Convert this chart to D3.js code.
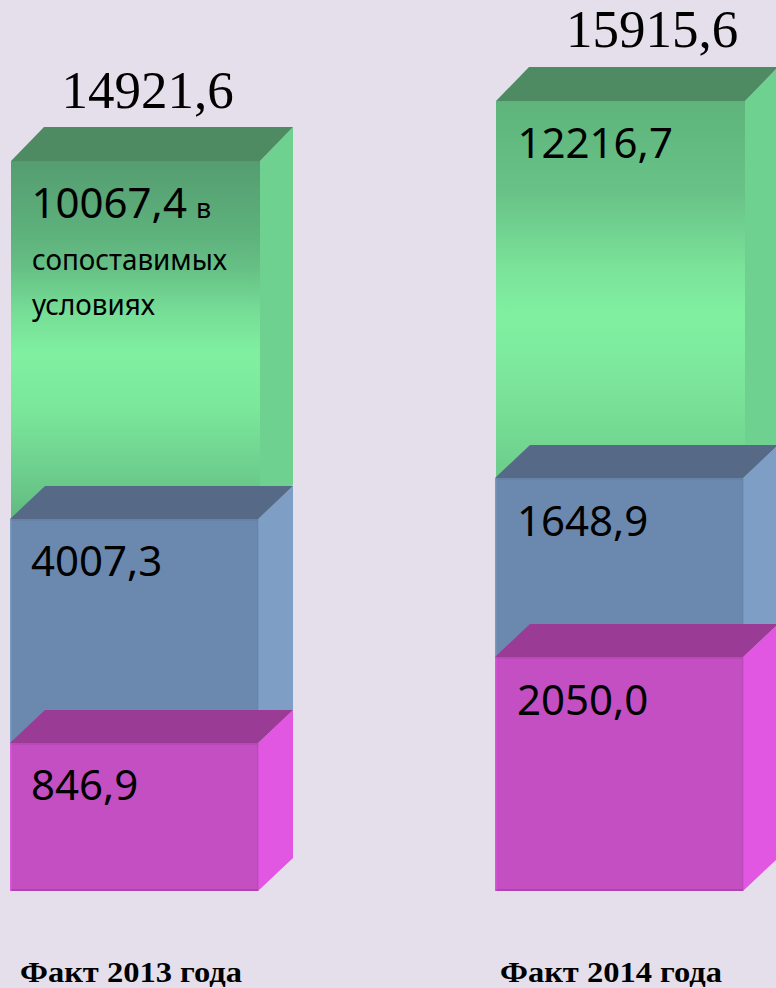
<!DOCTYPE html>
<html lang="ru">
<head>
<meta charset="utf-8">
<script src="https://cdn.jsdelivr.net/npm/d3@7"></script>
<style>
html,body{margin:0;padding:0;background:#e5dfeb;overflow:hidden}
svg{display:block}
</style>
</head>
<body>
<div id="chart"></div>
<script>
const categories = ["Факт 2013 года", "Факт 2014 года"];
const totals = ["14921,6", "15915,6"];
const seriesNames = ["pink", "blue", "green"]; // stacked bottom to top
const pinkValues = [846.9, 2050.0];
const blueValues = [4007.3, 1648.9];
const greenValues = [10067.4, 12216.7];

const W = 776, H = 988, baseY = 891;
const svg = d3.select("#chart").append("svg").attr("width", W).attr("height", H);
svg.append("rect").attr("width", W).attr("height", H).attr("fill", "#e5dfeb");

const x = d3.scaleBand().domain(categories).range([10, 744]).paddingInner(0.4866).paddingOuter(0);

// The source picture is not drawn to one scale: each series has its own height scale.
const heightScale = {
  pink: d3.scaleLinear().domain([846.9, 2050.0]).range([148, 234]),
  blue: d3.scaleLinear().domain([1648.9, 4007.3]).range([179, 224]),
  green: d3.scaleLinear().domain([10067.4, 12216.7]).range([358, 377])
};
const valuesOf = { pink: pinkValues, blue: blueValues, green: greenValues };
const fmt = v => d3.format(".1f")(v).replace(".", ",");

const style = {
  pink: { front: "#c34fc3", top: "#9a3b95", side: "#e257e2", edge: "#b044ae", dx: 0, w: 248, depthX: 35, depthY: 33 },
  blue: { front: "#6b88ae", top: "#566a88", side: "#7e9ec6", edge: "#637fa3", dx: 0, w: 248, depthX: 35, depthY: 33 },
  green: { front: null, top: "#4e8b63", side: "#6fd190", edge: null, dx: 1, w: 249, depthX: 33, depthY: 34 }
};

// gradients for the green fronts
const defs = svg.append("defs");
const greenStops = [
  [["0", "#559d71"], ["0.2", "#5db17b"], ["0.3", "#66c085"], ["0.42", "#76dd96"], ["0.54", "#80f0a0"], ["0.7", "#7ae69a"], ["0.88", "#6ccd8c"], ["1", "#62b980"]],
  [["0", "#5eb47b"], ["0.25", "#69c388"], ["0.45", "#7be49a"], ["0.57", "#80f0a0"], ["0.7", "#7de99d"], ["0.88", "#74da93"], ["1", "#6ccb8b"]]
];
greenStops.forEach((stops, i) => {
  const g = defs.append("linearGradient").attr("id", "green" + i)
    .attr("x1", 0).attr("y1", 0).attr("x2", 0).attr("y2", 1);
  g.selectAll("stop").data(stops).join("stop")
    .attr("offset", d => d[0]).attr("stop-color", d => d[1]);
});

// stacking: compute from the bottom upward
const boxes = [];
categories.forEach((cat, i) => {
  let bottom = baseY;
  seriesNames.forEach(name => {
    const v = valuesOf[name][i];
    const h = heightScale[name](v);
    boxes.push({ cat, i, name, v, top: bottom - h, bottom });
    bottom -= h;
  });
});

// draw from the top of the stack down so lower boxes overlap upper ones
const order = ["green", "blue", "pink"];
order.forEach(name => {
  boxes.filter(b => b.name === name).forEach(b => {
    const s = style[name];
    const x0 = x(b.cat) + s.dx, x1 = x0 + s.w;
    const dx = s.depthX, dy = s.depthY;
    const g = svg.append("g");
    g.append("path")
      .attr("d", d3.line()([[x1, b.top], [x1 + dx, b.top - dy], [x1 + dx, b.bottom - dy], [x1, b.bottom]]) + "Z")
      .attr("fill", s.side);
    g.append("path")
      .attr("d", d3.line()([[x0, b.top], [x0 + dx, b.top - dy], [x1 + dx, b.top - dy], [x1, b.top]]) + "Z")
      .attr("fill", s.top);
    g.append("rect")
      .attr("x", x0).attr("y", b.top).attr("width", s.w).attr("height", b.bottom - b.top)
      .attr("fill", name === "green" ? `url(#green${b.i})` : s.front);
    if (name === "pink") {
      g.append("rect").attr("x", x0).attr("y", b.bottom - 2).attr("width", s.w).attr("height", 2).attr("fill", s.edge);
    }
    if (name !== "green") {
      g.append("rect").attr("x", x0).attr("y", b.top).attr("width", s.w).attr("height", 2).attr("fill", s.edge).attr("opacity", 0.55);
      g.append("rect").attr("x", x0).attr("y", b.top).attr("width", 1.5).attr("height", b.bottom - b.top).attr("fill", s.side).attr("opacity", 0.8);
      g.append("rect").attr("x", x1 - 1).attr("y", b.top).attr("width", 1.5).attr("height", b.bottom - b.top).attr("fill", s.edge).attr("opacity", 0.5);
    }
    // value label
    const tx = x0 + (name === "green" ? 20.5 : 21) + (b.i === 1 ? 1 : 0);
    const t = g.append("text")
      .attr("x", tx).attr("y", b.top + 57 + (b.i === 1 && name !== "green" ? 1 : 0))
      .attr("font-family", "'Noto Sans', sans-serif")
      .attr("font-size", 42).attr("fill", "#000")
      .text(fmt(b.v));
    if (name === "green" && b.i === 0) {
      t.append("tspan").attr("font-size", 27).attr("dx", 9).text("в");
      g.append("text").attr("x", tx + 0.5).attr("y", b.top + 109)
        .attr("font-family", "'Noto Sans', sans-serif").attr("font-size", 29).attr("fill", "#000")
        .attr("textLength", 195).attr("lengthAdjust", "spacingAndGlyphs")
        .text("сопоставимых");
      g.append("text").attr("x", tx + 0.5).attr("y", b.top + 154)
        .attr("font-family", "'Noto Sans', sans-serif").attr("font-size", 29).attr("fill", "#000")
        .attr("textLength", 123).attr("lengthAdjust", "spacingAndGlyphs")
        .text("условиях");
    }
  });
});

// totals
svg.selectAll(".total").data(totals).join("text").attr("class", "total")
  .attr("x", (d, i) => x(categories[i]) + [51.5, 71][i])
  .attr("y", (d, i) => boxes.filter(b => b.i === i && b.name === "green")[0].top - [53, 54][i])
  .attr("font-family", "'Liberation Serif', serif")
  .attr("font-size", 53).attr("fill", "#000")
  .text(d => d);

// category labels
svg.selectAll(".cat").data(categories).join("text").attr("class", "cat")
  .attr("x", (d, i) => x(d) + [10, 5][i])
  .attr("y", 981.5)
  .attr("font-family", "'Liberation Serif', serif")
  .attr("font-weight", "bold")
  .attr("font-size", 30).attr("fill", "#000")
  .attr("textLength", 222).attr("lengthAdjust", "spacingAndGlyphs")
  .text(d => d);
</script>
</body>
</html>
